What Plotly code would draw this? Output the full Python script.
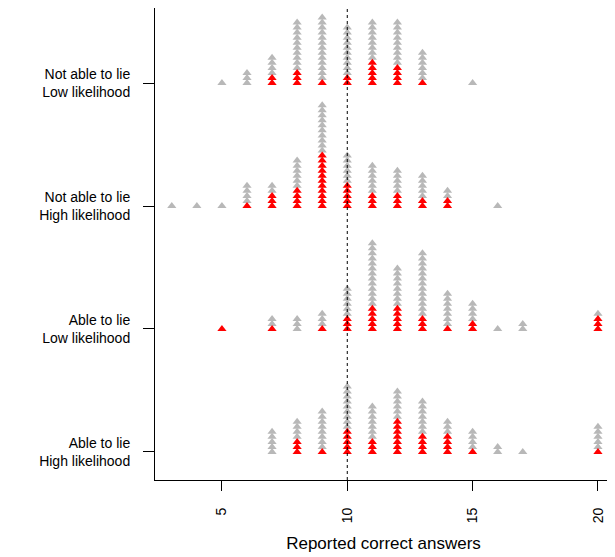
import plotly.graph_objects as go

# Groups from bottom (y=1) to top (y=4)
group_labels = [
    "Able to lie<br>High likelihood",
    "Able to lie<br>Low likelihood",
    "Not able to lie<br>High likelihood",
    "Not able to lie<br>Low likelihood",
]

# Able to lie, High likelihood
g1_x = [7, 8, 9, 10, 11, 12, 13, 14, 15, 16, 17, 20]
g1_total = [5, 7, 9, 14, 10, 13, 11, 7, 5, 2, 1, 6]
g1_red = [0, 3, 1, 5, 3, 7, 4, 4, 1, 0, 0, 1]

# Able to lie, Low likelihood
g2_x = [5, 7, 8, 9, 10, 11, 12, 13, 14, 15, 16, 17, 20]
g2_total = [1, 3, 3, 4, 9, 18, 13, 16, 8, 6, 1, 2, 4]
g2_red = [1, 1, 0, 1, 3, 5, 5, 3, 1, 2, 0, 0, 3]

# Not able to lie, High likelihood
g3_x = [3, 4, 5, 6, 7, 8, 9, 10, 11, 12, 13, 14, 16]
g3_total = [1, 1, 1, 5, 5, 10, 21, 11, 9, 8, 7, 4, 1]
g3_red = [0, 0, 0, 1, 3, 4, 11, 5, 3, 3, 2, 2, 0]

# Not able to lie, Low likelihood
g4_x = [5, 6, 7, 8, 9, 10, 11, 12, 13, 15]
g4_total = [1, 3, 6, 13, 14, 12, 13, 13, 7, 1]
g4_red = [0, 0, 2, 3, 1, 2, 5, 4, 1, 0]

x_ticks = [5, 10, 15, 20]
ref_value = 10

groups = [
    (g1_x, g1_total, g1_red),
    (g2_x, g2_total, g2_red),
    (g3_x, g3_total, g3_red),
    (g4_x, g4_total, g4_red),
]

STEP = 0.041  # vertical stacking offset (y units)

gx, gy, rx, ry = [], [], [], []
for gi, (xs, tots, reds) in enumerate(groups):
    base = gi + 1
    for xv, n, r in zip(xs, tots, reds):
        for k in range(n):
            yv = base + k * STEP
            if k < r:
                rx.append(xv); ry.append(yv)
            else:
                gx.append(xv); gy.append(yv)

fig = go.Figure()
fig.add_trace(go.Scatter(x=gx, y=gy, mode="markers",
                         marker=dict(symbol="triangle-up", size=8, color="#B8B8B8",
                                     line=dict(width=0)),
                         hoverinfo="skip", showlegend=False, cliponaxis=False))
fig.add_trace(go.Scatter(x=rx, y=ry, mode="markers",
                         marker=dict(symbol="triangle-up", size=8, color="#FF0000",
                                     line=dict(width=0)),
                         hoverinfo="skip", showlegend=False, cliponaxis=False))

fig.add_shape(type="line", x0=ref_value, x1=ref_value, xref="x",
              y0=0, y1=1, yref="paper",
              line=dict(color="black", width=1, dash="3px,3px"))

font = dict(family="Liberation Sans, Arial, sans-serif", size=14, color="black")

fig.update_layout(
    width=607, height=549,
    margin=dict(l=147, r=3, t=0, b=77, autoexpand=False),
    paper_bgcolor="white", plot_bgcolor="white",
    font=font,
    xaxis=dict(range=[2.33, 20.56], tickvals=x_ticks, ticktext=[str(v) for v in x_ticks],
               tickangle=-90, ticks="outside", ticklen=10, tickcolor="black",
               ticklabelstandoff=11,
               showline=True, linecolor="black", linewidth=1, mirror=True,
               showgrid=False, zeroline=False, automargin=False,
               title=dict(text="Reported correct answers", standoff=14)),
    yaxis=dict(range=[0.772, 4.61], tickvals=[1, 2, 3, 4], ticktext=group_labels,
               ticks="outside", ticklen=11, tickcolor="black", ticklabelstandoff=10,
               showline=True, linecolor="black", linewidth=1, mirror=True,
               showgrid=False, zeroline=False, automargin=False),
)

fig.write_html("out.html")
